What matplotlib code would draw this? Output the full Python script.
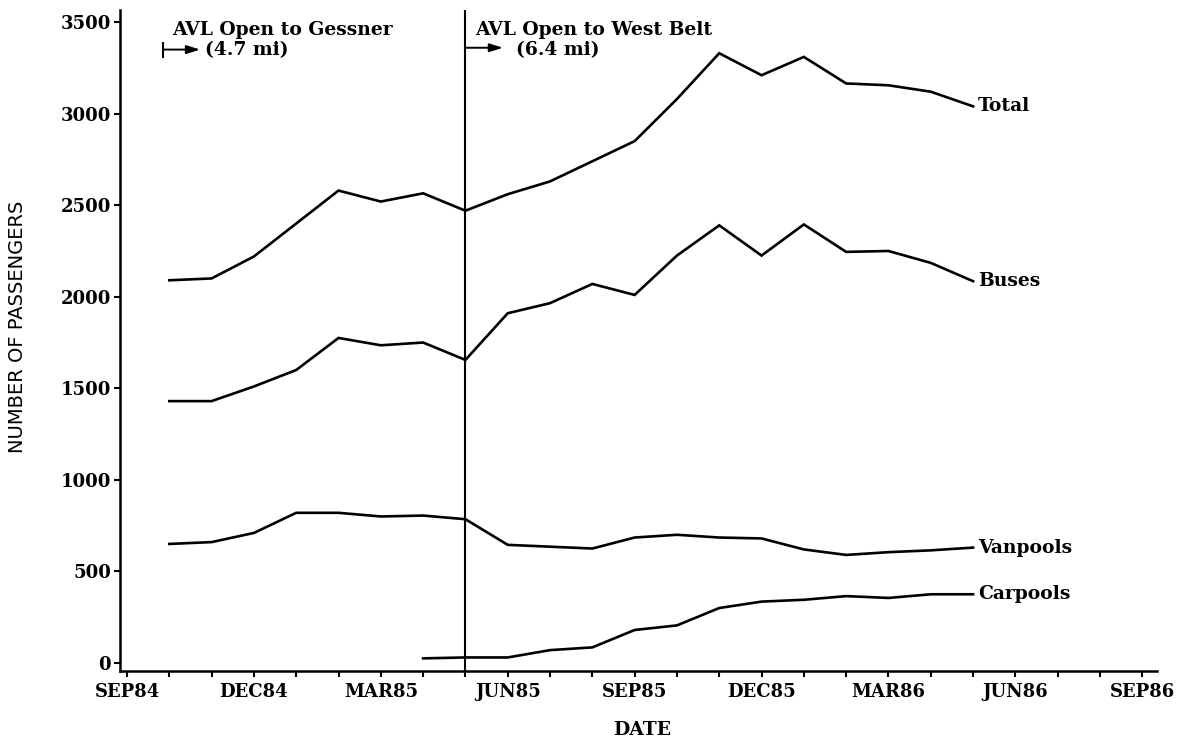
import matplotlib
matplotlib.use("Agg")
import matplotlib.pyplot as plt
from matplotlib.ticker import MultipleLocator

# Meses contados desde SEP84 (0 = SEP84)
meses = list(range(1, 21))          # OCT84 .. MAY86
meses_carpool = list(range(7, 21))  # APR85 .. MAY86

total = [2090, 2100, 2220, 2400, 2580, 2520, 2565, 2470, 2560, 2630,
         2740, 2850, 3080, 3330, 3210, 3310, 3165, 3155, 3120, 3040]
buses = [1430, 1430, 1510, 1600, 1775, 1735, 1750, 1655, 1910, 1965,
         2070, 2010, 2225, 2390, 2225, 2395, 2245, 2250, 2185, 2085]
vanpools = [650, 660, 710, 820, 820, 800, 805, 785, 645, 635,
            625, 685, 700, 685, 680, 620, 590, 605, 615, 630]
carpools = [25, 30, 30, 70, 85, 180, 205, 300, 335, 345, 365, 355, 375, 375]

etiquetas_x = ["SEP84", "DEC84", "MAR85", "JUN85", "SEP85",
               "DEC85", "MAR86", "JUN86", "SEP86"]
ticks_y = [0, 500, 1000, 1500, 2000, 2500, 3000, 3500]
apertura_west_belt = 8  # MAY85

fuente = "DejaVu Serif"
tam = 13.5

fig = plt.figure(figsize=(11.92, 7.43), dpi=100)
ax = fig.add_axes([0.1007, 0.0969, 0.870, 0.8896])

# Series
for xs, ys in [(meses, total), (meses, buses), (meses, vanpools), (meses_carpool, carpools)]:
    ax.plot(xs, ys, color="black", lw=1.9, solid_joinstyle="miter")

# Línea vertical de apertura
ax.axvline(apertura_west_belt, color="black", lw=1.5)

# Etiquetas de las series
for y, nombre in [(total[-1], "Total"), (buses[-1], "Buses"),
                  (vanpools[-1], "Vanpools"), (carpools[-1], "Carpools")]:
    ax.text(meses[-1] + 0.12, y, nombre, fontsize=tam, fontweight="bold",
            family=fuente, va="center", ha="left")

# Anotaciones AVL
flecha = dict(arrowstyle="-|>,head_width=0.25,head_length=0.8",
              color="black", lw=1.4, shrinkA=0, shrinkB=0)
ax.text(1.06, 3455, "AVL Open to Gessner", fontsize=tam, fontweight="bold",
        family=fuente, va="center", ha="left")
ax.annotate("", xy=(1.73, 3350), xytext=(0.85, 3350), arrowprops=flecha)
ax.plot([0.85], [3350], marker="|", markersize=12, mew=1.5, color="black")
ax.text(1.84, 3345, "(4.7 mi)", fontsize=tam, fontweight="bold",
        family=fuente, va="center", ha="left")

ax.text(8.23, 3455, "AVL Open to West Belt", fontsize=tam, fontweight="bold",
        family=fuente, va="center", ha="left")
ax.annotate("", xy=(8.89, 3360), xytext=(8.0, 3360), arrowprops=flecha)
ax.text(9.2, 3345, "(6.4 mi)", fontsize=tam, fontweight="bold",
        family=fuente, va="center", ha="left")

# Ejes
ax.set_xlim(-0.165, 24.35)
ax.set_ylim(-44, 3566)
ax.set_xticks(range(0, 25, 3))
ax.set_xticklabels(etiquetas_x, family=fuente, fontweight="bold", fontsize=13)
ax.xaxis.set_minor_locator(MultipleLocator(1))
ax.set_yticks(ticks_y)
ax.set_yticklabels([str(v) for v in ticks_y], family=fuente, fontweight="bold", fontsize=13)
ax.tick_params(axis="both", which="both", direction="out", length=4.5, width=1.5, color="black")
ax.tick_params(axis="x", which="major", pad=4)
ax.tick_params(axis="y", pad=2)

for lado in ["top", "right"]:
    ax.spines[lado].set_visible(False)
for lado in ["left", "bottom"]:
    ax.spines[lado].set_linewidth(1.8)

fig.text(642 / 1192, 1 - 730 / 743, "DATE", family=fuente, fontweight="bold",
         fontsize=tam, ha="center", va="center")
fig.text(18 / 1192, 1 - 327 / 743, "NUMBER OF PASSENGERS", family="DejaVu Sans",
         fontsize=14, rotation=90, ha="center", va="center")

fig.savefig("out.png", dpi=100)
